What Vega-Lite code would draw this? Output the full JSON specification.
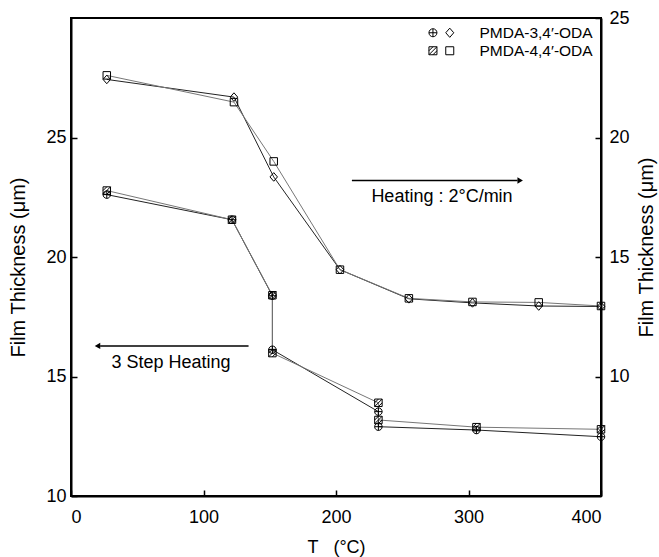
{
  "$schema": "https://vega.github.io/schema/vega-lite/v6.json",
  "width": 530,
  "height": 478,
  "autosize": "none",
  "padding": {"left": 71, "top": 18, "right": 58, "bottom": 61},
  "background": "white",
  "config": {
    "view": {"stroke": "black", "strokeWidth": 2},
    "font": "Liberation Sans",
    "axis": {
      "grid": false,
      "domainColor": "black",
      "domainWidth": 2,
      "tickColor": "black",
      "tickWidth": 1.5,
      "tickSize": -6,
      "labelFontSize": 18,
      "labelColor": "black",
      "labelFont": "Liberation Sans",
      "titleFont": "Liberation Sans",
      "titleFontSize": 20,
      "titleFontWeight": "normal",
      "titleColor": "black"
    }
  },
  "data": {
    "values": [
      {"Process": "Heating", "Polymer": "PMDA-4,4′-ODA", "seq": 1, "T": 27, "Thickness": 22.6},
      {"Process": "Heating", "Polymer": "PMDA-4,4′-ODA", "seq": 2, "T": 123, "Thickness": 21.48},
      {"Process": "Heating", "Polymer": "PMDA-4,4′-ODA", "seq": 3, "T": 153, "Thickness": 19.0},
      {"Process": "Heating", "Polymer": "PMDA-4,4′-ODA", "seq": 4, "T": 203, "Thickness": 14.47},
      {"Process": "Heating", "Polymer": "PMDA-4,4′-ODA", "seq": 5, "T": 255, "Thickness": 13.27},
      {"Process": "Heating", "Polymer": "PMDA-4,4′-ODA", "seq": 6, "T": 303, "Thickness": 13.12},
      {"Process": "Heating", "Polymer": "PMDA-4,4′-ODA", "seq": 7, "T": 353, "Thickness": 13.1},
      {"Process": "Heating", "Polymer": "PMDA-4,4′-ODA", "seq": 8, "T": 400, "Thickness": 12.95},
      {"Process": "Heating", "Polymer": "PMDA-3,4′-ODA", "seq": 1, "T": 27, "Thickness": 22.43},
      {"Process": "Heating", "Polymer": "PMDA-3,4′-ODA", "seq": 2, "T": 123, "Thickness": 21.69},
      {"Process": "Heating", "Polymer": "PMDA-3,4′-ODA", "seq": 3, "T": 153, "Thickness": 18.35},
      {"Process": "Heating", "Polymer": "PMDA-3,4′-ODA", "seq": 4, "T": 203, "Thickness": 14.47},
      {"Process": "Heating", "Polymer": "PMDA-3,4′-ODA", "seq": 5, "T": 255, "Thickness": 13.25},
      {"Process": "Heating", "Polymer": "PMDA-3,4′-ODA", "seq": 6, "T": 303, "Thickness": 13.08},
      {"Process": "Heating", "Polymer": "PMDA-3,4′-ODA", "seq": 7, "T": 353, "Thickness": 12.95},
      {"Process": "Heating", "Polymer": "PMDA-3,4′-ODA", "seq": 8, "T": 400, "Thickness": 12.93},
      {"Process": "3 Step", "Polymer": "PMDA-4,4′-ODA", "seq": 1, "T": 27, "Thickness": 22.78},
      {"Process": "3 Step", "Polymer": "PMDA-4,4′-ODA", "seq": 2, "T": 121.5, "Thickness": 21.56},
      {"Process": "3 Step", "Polymer": "PMDA-4,4′-ODA", "seq": 3, "T": 152, "Thickness": 18.4},
      {"Process": "3 Step", "Polymer": "PMDA-4,4′-ODA", "seq": 4, "T": 152, "Thickness": 15.98},
      {"Process": "3 Step", "Polymer": "PMDA-4,4′-ODA", "seq": 5, "T": 232, "Thickness": 13.9},
      {"Process": "3 Step", "Polymer": "PMDA-4,4′-ODA", "seq": 6, "T": 232, "Thickness": 13.18},
      {"Process": "3 Step", "Polymer": "PMDA-4,4′-ODA", "seq": 7, "T": 306, "Thickness": 12.88},
      {"Process": "3 Step", "Polymer": "PMDA-4,4′-ODA", "seq": 8, "T": 400, "Thickness": 12.79},
      {"Process": "3 Step", "Polymer": "PMDA-3,4′-ODA", "seq": 1, "T": 27, "Thickness": 22.61},
      {"Process": "3 Step", "Polymer": "PMDA-3,4′-ODA", "seq": 2, "T": 121.5, "Thickness": 21.56},
      {"Process": "3 Step", "Polymer": "PMDA-3,4′-ODA", "seq": 3, "T": 152, "Thickness": 18.38},
      {"Process": "3 Step", "Polymer": "PMDA-3,4′-ODA", "seq": 4, "T": 152, "Thickness": 16.12},
      {"Process": "3 Step", "Polymer": "PMDA-3,4′-ODA", "seq": 5, "T": 232, "Thickness": 13.53},
      {"Process": "3 Step", "Polymer": "PMDA-3,4′-ODA", "seq": 6, "T": 232, "Thickness": 12.9},
      {"Process": "3 Step", "Polymer": "PMDA-3,4′-ODA", "seq": 7, "T": 306, "Thickness": 12.76},
      {"Process": "3 Step", "Polymer": "PMDA-3,4′-ODA", "seq": 8, "T": 400, "Thickness": 12.48}
    ]
  },
  "layer": [
    {
      "layer": [
        {
          "transform": [{"filter": "datum.Process === '3 Step' && datum.Polymer === 'PMDA-3,4′-ODA'"}],
          "mark": {"type": "line", "strokeWidth": 1, "color": "#222222"},
          "encoding": {
            "x": {"field": "T", "type": "quantitative", "scale": {"domain": [0, 400], "nice": false, "zero": false}, "axis": {"values": [0, 100, 200, 300, 400], "title": "T\u00a0\u00a0\u00a0(°C)", "labelPadding": 18, "titlePadding": 12, "titleFontSize": 18}},
            "y": {"field": "Thickness", "type": "quantitative", "scale": {"domain": [10, 30], "nice": false, "zero": false}, "axis": {"orient": "left", "values": [10, 15, 20, 25], "title": "Film Thickness (μm)", "labelPadding": 11, "titlePadding": 17, "titleY": 249}},
            "order": {"field": "seq", "type": "quantitative"}
          }
        },
        {
          "transform": [{"filter": "datum.Process === '3 Step' && datum.Polymer === 'PMDA-4,4′-ODA'"}],
          "mark": {"type": "line", "strokeWidth": 1, "color": "#777777"},
          "encoding": {
            "x": {"field": "T", "type": "quantitative"},
            "y": {"field": "Thickness", "type": "quantitative"},
            "order": {"field": "seq", "type": "quantitative"}
          }
        },
        {
          "transform": [{"filter": "datum.Process === '3 Step' && datum.Polymer === 'PMDA-3,4′-ODA'"}],
          "mark": {"type": "point", "shape": "M-1,0A1,1,0,1,1,1,0A1,1,0,1,1,-1,0M-1,0L1,0M0,-1L0,1", "filled": false, "color": "black", "size": 56, "strokeWidth": 1, "opacity": 1},
          "encoding": {
            "x": {"field": "T", "type": "quantitative"},
            "y": {"field": "Thickness", "type": "quantitative"}
          }
        },
        {
          "transform": [{"filter": "datum.Process === '3 Step' && datum.Polymer === 'PMDA-4,4′-ODA'"}],
          "mark": {"type": "point", "shape": "M-1,-1L1,-1L1,1L-1,1ZM-1,0L0,-1M-1,1L1,-1M0,1L1,0", "filled": false, "color": "black", "size": 56, "strokeWidth": 1, "opacity": 1},
          "encoding": {
            "x": {"field": "T", "type": "quantitative"},
            "y": {"field": "Thickness", "type": "quantitative"}
          }
        },
        {
          "data": {"values": [{}]},
          "mark": {"type": "rule", "color": "black", "strokeWidth": 1.5},
          "encoding": {"x": {"datum": 212, "type": "quantitative"}, "x2": {"datum": 337}, "y": {"datum": 23.2, "type": "quantitative"}}
        },
        {
          "data": {"values": [{}]},
          "mark": {"type": "point", "shape": "triangle-right", "filled": true, "color": "black", "size": 40, "opacity": 1},
          "encoding": {"x": {"datum": 339, "type": "quantitative"}, "y": {"datum": 23.2, "type": "quantitative"}}
        },
        {
          "data": {"values": [{}]},
          "mark": {"type": "text", "fontSize": 18, "font": "Liberation Sans", "color": "black", "baseline": "middle", "align": "center"},
          "encoding": {"x": {"datum": 280, "type": "quantitative"}, "y": {"datum": 22.5, "type": "quantitative"}, "text": {"value": "Heating : 2°C/min"}}
        },
        {
          "data": {"values": [{}]},
          "mark": {"type": "rule", "color": "black", "strokeWidth": 1.5},
          "encoding": {"x": {"datum": 22, "type": "quantitative"}, "x2": {"datum": 134}, "y": {"datum": 16.28, "type": "quantitative"}}
        },
        {
          "data": {"values": [{}]},
          "mark": {"type": "point", "shape": "triangle-left", "filled": true, "color": "black", "size": 40, "opacity": 1},
          "encoding": {"x": {"datum": 20, "type": "quantitative"}, "y": {"datum": 16.28, "type": "quantitative"}}
        },
        {
          "data": {"values": [{}]},
          "mark": {"type": "text", "fontSize": 18, "font": "Liberation Sans", "color": "black", "baseline": "middle", "align": "center"},
          "encoding": {"x": {"datum": 75.5, "type": "quantitative"}, "y": {"datum": 15.55, "type": "quantitative"}, "text": {"value": "3 Step Heating"}}
        }
      ]
    },
    {
      "transform": [{"filter": "datum.Process === 'Heating'"}],
      "encoding": {
        "x": {"field": "T", "type": "quantitative", "scale": {"domain": [0, 400], "nice": false, "zero": false}},
        "y": {"field": "Thickness", "type": "quantitative", "scale": {"domain": [5, 25], "nice": false, "zero": false}, "axis": {"orient": "right", "values": [10, 15, 20, 25], "title": "Film Thickness (μm)", "titleAngle": 270, "labelPadding": 14, "titlePadding": 27, "titleY": 229}}
      },
      "layer": [
        {
          "transform": [{"filter": "datum.Polymer === 'PMDA-3,4′-ODA'"}],
          "mark": {"type": "line", "strokeWidth": 1, "color": "#222222"},
          "encoding": {"order": {"field": "seq", "type": "quantitative"}}
        },
        {
          "transform": [{"filter": "datum.Polymer === 'PMDA-4,4′-ODA'"}],
          "mark": {"type": "line", "strokeWidth": 1, "color": "#777777"},
          "encoding": {"order": {"field": "seq", "type": "quantitative"}}
        },
        {
          "transform": [{"filter": "datum.Polymer === 'PMDA-3,4′-ODA'"}],
          "mark": {"type": "point", "shape": "M0,-1.15L1,0L0,1.15L-1,0Z", "filled": false, "color": "black", "size": 56, "strokeWidth": 1, "opacity": 1}
        },
        {
          "transform": [{"filter": "datum.Polymer === 'PMDA-4,4′-ODA'"}],
          "mark": {"type": "point", "shape": "M-1,-1L1,-1L1,1L-1,1Z", "filled": false, "color": "black", "size": 56, "strokeWidth": 1, "opacity": 1}
        },
        {
          "mark": {"type": "point", "filled": false, "opacity": 0},
          "encoding": {
            "shape": {
              "field": "Polymer",
              "type": "nominal",
              "scale": {
                "domain": ["PMDA-3,4′-ODA", "PMDA-4,4′-ODA"],
                "range": [
                  "M-5.2,0A1,1,0,1,1,-3.2,0A1,1,0,1,1,-5.2,0M-5.2,0L-3.2,0M-4.2,-1L-4.2,1M0,-1.15L1,0L0,1.15L-1,0Z",
                  "M-5.2,-1L-3.2,-1L-3.2,1L-5.2,1ZM-5.2,0L-4.2,-1M-5.2,1L-3.2,-1M-4.2,1L-3.2,0M-1,-1L1,-1L1,1L-1,1Z"
                ]
              },
              "legend": {
                "title": null,
                "orient": "none",
                "legendX": 371,
                "legendY": 7,
                "padding": 0,
                "symbolSize": 64,
                "symbolStrokeColor": "black",
                "symbolStrokeWidth": 1,
                "symbolFillColor": "transparent",
                "symbolOpacity": 1,
                "labelFontSize": 15.5,
                "labelFont": "Liberation Sans",
                "labelColor": "black",
                "labelOffset": 22,
                "rowPadding": 1
              }
            }
          }
        }
      ]
    }
  ],
  "resolve": {"scale": {"y": "independent"}}
}
